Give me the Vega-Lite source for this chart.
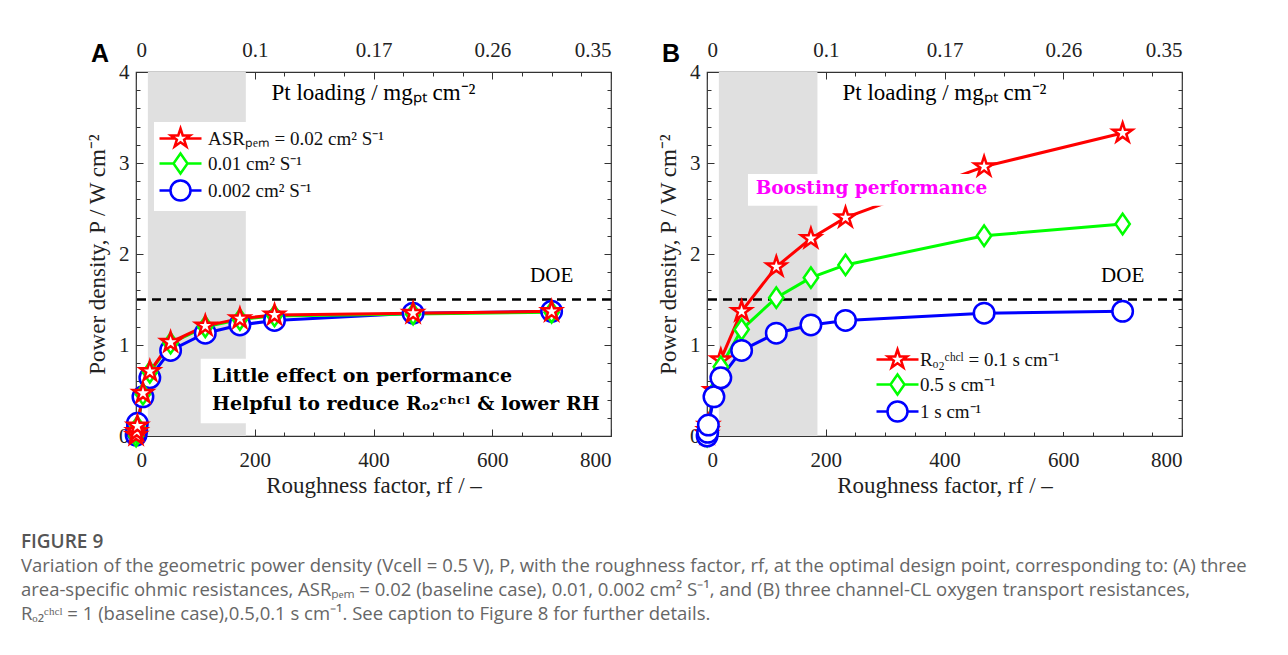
{
  "$schema": "https://vega.github.io/schema/vega-lite/v6.json",
  "padding": {"left": 20, "top": 38, "right": 5, "bottom": 5},
  "background": "white",
  "config": {
    "view": {"stroke": "#333", "strokeWidth": 1.2},
    "font": "Liberation Serif",
    "axis": {"grid": false, "domain": false, "tickColor": "#333", "tickWidth": 1, "labelFont": "Liberation Serif", "labelFontSize": 21, "labelColor": "#222", "titleFont": "Liberation Serif", "titleFontSize": 23, "titleFontWeight": "normal", "titleColor": "#222"}
  },
  "datasets": {
    "A": [
      {"s": "0.002 cm² S⁻¹", "r": 0.2, "P": 0.01},
      {"s": "0.002 cm² S⁻¹", "r": 1.2, "P": 0.06},
      {"s": "0.002 cm² S⁻¹", "r": 2.3, "P": 0.14},
      {"s": "0.002 cm² S⁻¹", "r": 11.7, "P": 0.43},
      {"s": "0.002 cm² S⁻¹", "r": 23.3, "P": 0.64},
      {"s": "0.002 cm² S⁻¹", "r": 58.3, "P": 0.94},
      {"s": "0.002 cm² S⁻¹", "r": 116.7, "P": 1.13},
      {"s": "0.002 cm² S⁻¹", "r": 175, "P": 1.22},
      {"s": "0.002 cm² S⁻¹", "r": 233.3, "P": 1.27},
      {"s": "0.002 cm² S⁻¹", "r": 466.7, "P": 1.35},
      {"s": "0.002 cm² S⁻¹", "r": 700, "P": 1.37},
      {"s": "0.01 cm² S⁻¹", "r": 0.2, "P": 0.0},
      {"s": "0.01 cm² S⁻¹", "r": 1.2, "P": 0.04},
      {"s": "0.01 cm² S⁻¹", "r": 2.3, "P": 0.1},
      {"s": "0.01 cm² S⁻¹", "r": 11.7, "P": 0.46},
      {"s": "0.01 cm² S⁻¹", "r": 23.3, "P": 0.7},
      {"s": "0.01 cm² S⁻¹", "r": 58.3, "P": 1.02},
      {"s": "0.01 cm² S⁻¹", "r": 116.7, "P": 1.2},
      {"s": "0.01 cm² S⁻¹", "r": 175, "P": 1.28},
      {"s": "0.01 cm² S⁻¹", "r": 233.3, "P": 1.32},
      {"s": "0.01 cm² S⁻¹", "r": 466.7, "P": 1.34},
      {"s": "0.01 cm² S⁻¹", "r": 700, "P": 1.36},
      {"s": "ASRₚₑₘ = 0.02 cm² S⁻¹", "r": 0.2, "P": 0.01},
      {"s": "ASRₚₑₘ = 0.02 cm² S⁻¹", "r": 1.2, "P": 0.05},
      {"s": "ASRₚₑₘ = 0.02 cm² S⁻¹", "r": 2.3, "P": 0.11},
      {"s": "ASRₚₑₘ = 0.02 cm² S⁻¹", "r": 11.7, "P": 0.47},
      {"s": "ASRₚₑₘ = 0.02 cm² S⁻¹", "r": 23.3, "P": 0.71},
      {"s": "ASRₚₑₘ = 0.02 cm² S⁻¹", "r": 58.3, "P": 1.03},
      {"s": "ASRₚₑₘ = 0.02 cm² S⁻¹", "r": 116.7, "P": 1.21},
      {"s": "ASRₚₑₘ = 0.02 cm² S⁻¹", "r": 175, "P": 1.29},
      {"s": "ASRₚₑₘ = 0.02 cm² S⁻¹", "r": 233.3, "P": 1.33},
      {"s": "ASRₚₑₘ = 0.02 cm² S⁻¹", "r": 466.7, "P": 1.35},
      {"s": "ASRₚₑₘ = 0.02 cm² S⁻¹", "r": 700, "P": 1.37}
    ],
    "B": [
      {"s": "Rₒ₂ᶜʰᶜˡ = 0.1 s cm⁻¹", "r": 0.2, "P": 0.02},
      {"s": "Rₒ₂ᶜʰᶜˡ = 0.1 s cm⁻¹", "r": 1.2, "P": 0.06},
      {"s": "Rₒ₂ᶜʰᶜˡ = 0.1 s cm⁻¹", "r": 2.3, "P": 0.12},
      {"s": "Rₒ₂ᶜʰᶜˡ = 0.1 s cm⁻¹", "r": 11.7, "P": 0.5},
      {"s": "Rₒ₂ᶜʰᶜˡ = 0.1 s cm⁻¹", "r": 23.3, "P": 0.84},
      {"s": "Rₒ₂ᶜʰᶜˡ = 0.1 s cm⁻¹", "r": 58.3, "P": 1.37},
      {"s": "Rₒ₂ᶜʰᶜˡ = 0.1 s cm⁻¹", "r": 116.7, "P": 1.86},
      {"s": "Rₒ₂ᶜʰᶜˡ = 0.1 s cm⁻¹", "r": 175, "P": 2.17},
      {"s": "Rₒ₂ᶜʰᶜˡ = 0.1 s cm⁻¹", "r": 233.3, "P": 2.4},
      {"s": "Rₒ₂ᶜʰᶜˡ = 0.1 s cm⁻¹", "r": 466.7, "P": 2.96},
      {"s": "Rₒ₂ᶜʰᶜˡ = 0.1 s cm⁻¹", "r": 700, "P": 3.33},
      {"s": "0.5 s cm⁻¹", "r": 0.2, "P": 0.0},
      {"s": "0.5 s cm⁻¹", "r": 1.2, "P": 0.05},
      {"s": "0.5 s cm⁻¹", "r": 2.3, "P": 0.11},
      {"s": "0.5 s cm⁻¹", "r": 11.7, "P": 0.48},
      {"s": "0.5 s cm⁻¹", "r": 23.3, "P": 0.76},
      {"s": "0.5 s cm⁻¹", "r": 58.3, "P": 1.17},
      {"s": "0.5 s cm⁻¹", "r": 116.7, "P": 1.52},
      {"s": "0.5 s cm⁻¹", "r": 175, "P": 1.74},
      {"s": "0.5 s cm⁻¹", "r": 233.3, "P": 1.88},
      {"s": "0.5 s cm⁻¹", "r": 466.7, "P": 2.2},
      {"s": "0.5 s cm⁻¹", "r": 700, "P": 2.33},
      {"s": "1 s cm⁻¹", "r": 0.2, "P": 0.0},
      {"s": "1 s cm⁻¹", "r": 1.2, "P": 0.04},
      {"s": "1 s cm⁻¹", "r": 2.3, "P": 0.12},
      {"s": "1 s cm⁻¹", "r": 11.7, "P": 0.43},
      {"s": "1 s cm⁻¹", "r": 23.3, "P": 0.64},
      {"s": "1 s cm⁻¹", "r": 58.3, "P": 0.94},
      {"s": "1 s cm⁻¹", "r": 116.7, "P": 1.13},
      {"s": "1 s cm⁻¹", "r": 175, "P": 1.22},
      {"s": "1 s cm⁻¹", "r": 233.3, "P": 1.27},
      {"s": "1 s cm⁻¹", "r": 466.7, "P": 1.35},
      {"s": "1 s cm⁻¹", "r": 700, "P": 1.37}
    ]
  },
  "title": {
    "text": "FIGURE 9",
    "subtitle": [
      "Variation of the geometric power density (Vcell =  0.5 V), P, with the roughness factor, rf, at the optimal design point, corresponding to: (A) three",
      "area-specific ohmic resistances, ASRₚₑₘ = 0.02 (baseline case), 0.01, 0.002 cm² S⁻¹, and (B) three channel-CL oxygen transport resistances,",
      "Rₒ₂ᶜʰᶜˡ = 1 (baseline case),0.5,0.1 s cm⁻¹. See caption to Figure 8 for further details."
    ],
    "orient": "bottom",
    "anchor": "start",
    "frame": "bounds",
    "dx": -65,
    "offset": 35,
    "font": "Open Sans",
    "fontSize": 19,
    "fontWeight": 600,
    "color": "#555",
    "subtitleFont": "Open Sans",
    "subtitleFontSize": 18.5,
    "subtitleColor": "#666",
    "subtitleLineHeight": 24,
    "subtitlePadding": 5
  },
  "spacing": 43,
  "resolve": {
    "scale": {"color": "independent", "stroke": "independent", "shape": "independent"},
    "legend": {"color": "independent", "stroke": "independent", "shape": "independent"}
  },
  "hconcat": [
    {
      "width": 475,
      "height": 364,
      "title": {"text": "A", "anchor": "start", "frame": "group", "font": "Liberation Sans", "fontSize": 25, "fontWeight": "bold", "color": "black", "dx": -45, "dy": 32},
      "data": {"name": "A"},
      "resolve": {"axis": {"x": "independent", "y": "independent"}},
      "layer": [
        {
          "data": {"values": [{}]},
          "mark": {"type": "rect", "color": "#e0e0e0"},
          "encoding": {
            "x": {"datum": 20, "type": "quantitative", "scale": {"domain": [0, 800], "nice": false}, "axis": {"orient": "bottom", "values": [0, 200, 400, 600, 800], "ticks": false, "labelPadding": 13, "title": "Roughness factor, rf / –", "titlePadding": 4}},
            "x2": {"datum": 185},
            "y": {"datum": 0, "type": "quantitative", "scale": {"domain": [0, 4], "nice": false}, "axis": {"orient": "left", "values": [0, 1, 2, 3, 4], "ticks": false, "labelPadding": 7, "title": "Power density, P / W cm⁻²", "titlePadding": 9}},
            "y2": {"datum": 4}
          }
        },
        {
          "data": {"values": [{}]},
          "mark": {"type": "rect", "color": "white"},
          "encoding": {
            "x": {"datum": 109, "type": "quantitative", "axis": {"orient": "top", "values": [0, 200, 400, 600, 800], "ticks": false, "labelPadding": 12, "labelExpr": "datum.value == 0 ? '0' : datum.value == 200 ? '0.1' : datum.value == 400 ? '0.17' : datum.value == 600 ? '0.26' : '0.35'", "title": null}},
            "x2": {"datum": 500},
            "y": {"datum": 0.14, "type": "quantitative", "axis": {"orient": "right", "values": [0, 1, 2, 3, 4], "labels": false, "tickSize": -7, "title": null}},
            "y2": {"datum": 0.85}
          }
        },
        {
          "data": {"values": [{}]},
          "mark": {"type": "rule", "color": "black", "strokeWidth": 2.5, "strokeDash": [9, 6]},
          "encoding": {
            "y": {"datum": 1.5, "type": "quantitative", "axis": {"orient": "left", "values": [0, 1, 2, 3, 4], "labels": false, "tickSize": -7, "title": null}}
          }
        },
        {
          "mark": {"type": "line", "strokeWidth": 3},
          "encoding": {
            "x": {"field": "r", "type": "quantitative", "axis": {"orient": "bottom", "values": [0, 200, 400, 600, 800], "labels": false, "tickSize": -7, "title": null}},
            "y": {"field": "P", "type": "quantitative", "axis": {"orient": "right", "values": [0.2, 0.4, 0.6, 0.8, 1.2, 1.4, 1.6, 1.8, 2.2, 2.4, 2.6, 2.8, 3.2, 3.4, 3.6, 3.8], "labels": false, "tickSize": -4, "title": null}},
            "color": {"field": "s", "type": "nominal", "scale": {"domain": ["0.002 cm² S⁻¹", "0.01 cm² S⁻¹", "ASRₚₑₘ = 0.02 cm² S⁻¹"], "range": ["#0000ff", "#00ff00", "#ff0000"]}, "legend": null}
          }
        },
        {
          "mark": {"type": "point", "filled": false, "fill": "white", "fillOpacity": 1, "strokeWidth": 2.5, "opacity": 1, "size": 420},
          "encoding": {
            "x": {"field": "r", "type": "quantitative", "axis": {"orient": "bottom", "values": [50, 100, 150, 250, 300, 350, 450, 500, 550, 650, 700, 750], "labels": false, "tickSize": -4, "title": null}},
            "y": {"field": "P", "type": "quantitative", "axis": {"orient": "left", "values": [0.2, 0.4, 0.6, 0.8, 1.2, 1.4, 1.6, 1.8, 2.2, 2.4, 2.6, 2.8, 3.2, 3.4, 3.6, 3.8], "labels": false, "tickSize": -4, "title": null}},
            "stroke": {"field": "s", "type": "nominal", "scale": {"domain": ["ASRₚₑₘ = 0.02 cm² S⁻¹", "0.01 cm² S⁻¹", "0.002 cm² S⁻¹"], "range": ["#ff0000", "#00ff00", "#0000ff"]}, "legend": {"orient": "none", "legendX": 18, "legendY": 50, "title": null, "fillColor": "white", "padding": 5, "labelFont": "Liberation Serif", "labelFontSize": 19, "labelColor": "#111", "labelLimit": 400, "labelOffset": 16, "symbolOffset": 10, "rowPadding": -7, "symbolSize": 400, "symbolStrokeWidth": 2.5, "symbolFillColor": "white", "symbolType": {"expr": "datum.index === 0 ? 'M-2.1,0L-0.5,0M0.5,0L2.1,0M0,-1L0.225,-0.309L0.951,-0.309L0.363,0.118L0.588,0.809L0,0.382L-0.588,0.809L-0.363,0.118L-0.951,-0.309L-0.225,-0.309Z' : datum.index === 1 ? 'M-2.1,0L-0.7,0M0.7,0L2.1,0M0,-1L0.7,0L0,1L-0.7,0Z' : 'M-2.1,0L-1,0M1,0L2.1,0M1,0A1,1,0,1,1,-1,0A1,1,0,1,1,1,0Z'"}, "encoding": {"symbols": {"shape": {"value": {"expr": "datum.index === 0 ? 'M-2.1,0L-0.5,0M0.5,0L2.1,0M0,-1L0.225,-0.309L0.951,-0.309L0.363,0.118L0.588,0.809L0,0.382L-0.588,0.809L-0.363,0.118L-0.951,-0.309L-0.225,-0.309Z' : datum.index === 1 ? 'M-2.1,0L-0.7,0M0.7,0L2.1,0M0,-1L0.7,0L0,1L-0.7,0Z' : 'M-2.1,0L-1,0M1,0L2.1,0M1,0A1,1,0,1,1,-1,0A1,1,0,1,1,1,0Z'"}}, "fill": {"value": "white"}, "strokeWidth": {"value": 2.5}}}}},
            "shape": {"field": "s", "type": "nominal", "scale": {"domain": ["0.002 cm² S⁻¹", "0.01 cm² S⁻¹", "ASRₚₑₘ = 0.02 cm² S⁻¹"], "range": ["M1,0A1,1,0,1,1,-1,0A1,1,0,1,1,1,0Z", "M0,-1L0.7,0L0,1L-0.7,0Z", "M0,-1L0.225,-0.309L0.951,-0.309L0.363,0.118L0.588,0.809L0,0.382L-0.588,0.809L-0.363,0.118L-0.951,-0.309L-0.225,-0.309Z"]}, "legend": null}
          }
        },
        {
          "data": {"values": [{}]},
          "mark": {"type": "text", "fontSize": 21, "font": "Liberation Serif", "color": "black", "align": "center", "baseline": "middle"},
          "encoding": {
            "x": {"datum": 700, "type": "quantitative", "axis": {"orient": "top", "values": [0, 200, 400, 600, 800], "labels": false, "tickSize": -7, "title": null}},
            "y": {"datum": 1.76, "type": "quantitative", "axis": null},
            "text": {"value": "DOE"}
          }
        },
        {
          "data": {"values": [{}]},
          "mark": {"type": "text", "fontSize": 23, "font": "Liberation Serif", "color": "black", "align": "center", "baseline": "middle"},
          "encoding": {
            "x": {"datum": 400, "type": "quantitative", "axis": {"orient": "top", "values": [50, 100, 150, 250, 300, 350, 450, 500, 550, 650, 700, 750], "labels": false, "tickSize": -4, "title": null}},
            "y": {"datum": 3.77, "type": "quantitative", "axis": null},
            "text": {"value": "Pt loading / mgₚₜ cm⁻²"}
          }
        },
        {
          "data": {"values": [{}]},
          "mark": {"type": "text", "fontSize": 19, "font": "DejaVu Serif", "fontWeight": "bold", "color": "black", "align": "left", "baseline": "middle", "lineHeight": 28},
          "encoding": {
            "x": {"datum": 128, "type": "quantitative", "axis": null},
            "y": {"datum": 0.66, "type": "quantitative", "axis": null},
            "text": {"value": ["Little effect on performance", "Helpful to reduce Rₒ₂ᶜʰᶜˡ & lower RH"]}
          }
        }
      ]
    },
    {
      "width": 475,
      "height": 364,
      "title": {"text": "B", "anchor": "start", "frame": "group", "font": "Liberation Sans", "fontSize": 25, "fontWeight": "bold", "color": "black", "dx": -45, "dy": 32},
      "data": {"name": "B"},
      "resolve": {"axis": {"x": "independent", "y": "independent"}},
      "layer": [
        {
          "data": {"values": [{}]},
          "mark": {"type": "rect", "color": "#e0e0e0"},
          "encoding": {
            "x": {"datum": 20, "type": "quantitative", "scale": {"domain": [0, 800], "nice": false}, "axis": {"orient": "bottom", "values": [0, 200, 400, 600, 800], "ticks": false, "labelPadding": 13, "title": "Roughness factor, rf / –", "titlePadding": 4}},
            "x2": {"datum": 186},
            "y": {"datum": 0, "type": "quantitative", "scale": {"domain": [0, 4], "nice": false}, "axis": {"orient": "left", "values": [0, 1, 2, 3, 4], "ticks": false, "labelPadding": 7, "title": "Power density, P / W cm⁻²", "titlePadding": 9}},
            "y2": {"datum": 4}
          }
        },
        {
          "data": {"values": [{}]},
          "mark": {"type": "rule", "color": "black", "strokeWidth": 2.5, "strokeDash": [9, 6]},
          "encoding": {
            "y": {"datum": 1.5, "type": "quantitative", "axis": {"orient": "left", "values": [0, 1, 2, 3, 4], "labels": false, "tickSize": -7, "title": null}}
          }
        },
        {
          "mark": {"type": "line", "strokeWidth": 3},
          "encoding": {
            "x": {"field": "r", "type": "quantitative", "axis": {"orient": "bottom", "values": [0, 200, 400, 600, 800], "labels": false, "tickSize": -7, "title": null}},
            "y": {"field": "P", "type": "quantitative", "axis": {"orient": "right", "values": [0.2, 0.4, 0.6, 0.8, 1.2, 1.4, 1.6, 1.8, 2.2, 2.4, 2.6, 2.8, 3.2, 3.4, 3.6, 3.8], "labels": false, "tickSize": -4, "title": null}},
            "color": {"field": "s", "type": "nominal", "scale": {"domain": ["1 s cm⁻¹", "0.5 s cm⁻¹", "Rₒ₂ᶜʰᶜˡ = 0.1 s cm⁻¹"], "range": ["#0000ff", "#00ff00", "#ff0000"]}, "legend": null}
          }
        },
        {
          "data": {"values": [{}]},
          "mark": {"type": "rect", "color": "white"},
          "encoding": {
            "x": {"datum": 69, "type": "quantitative", "axis": {"orient": "top", "values": [0, 200, 400, 600, 800], "ticks": false, "labelPadding": 12, "labelExpr": "datum.value == 0 ? '0' : datum.value == 200 ? '0.1' : datum.value == 400 ? '0.17' : datum.value == 600 ? '0.26' : '0.35'", "title": null}},
            "x2": {"datum": 485},
            "y": {"datum": 2.53, "type": "quantitative", "axis": {"orient": "right", "values": [0, 1, 2, 3, 4], "labels": false, "tickSize": -7, "title": null}},
            "y2": {"datum": 2.88}
          }
        },
        {
          "mark": {"type": "point", "filled": false, "fill": "white", "fillOpacity": 1, "strokeWidth": 2.5, "opacity": 1, "size": 420},
          "encoding": {
            "x": {"field": "r", "type": "quantitative", "axis": {"orient": "bottom", "values": [50, 100, 150, 250, 300, 350, 450, 500, 550, 650, 700, 750], "labels": false, "tickSize": -4, "title": null}},
            "y": {"field": "P", "type": "quantitative", "axis": {"orient": "left", "values": [0.2, 0.4, 0.6, 0.8, 1.2, 1.4, 1.6, 1.8, 2.2, 2.4, 2.6, 2.8, 3.2, 3.4, 3.6, 3.8], "labels": false, "tickSize": -4, "title": null}},
            "stroke": {"field": "s", "type": "nominal", "scale": {"domain": ["Rₒ₂ᶜʰᶜˡ = 0.1 s cm⁻¹", "0.5 s cm⁻¹", "1 s cm⁻¹"], "range": ["#ff0000", "#00ff00", "#0000ff"]}, "legend": {"orient": "none", "legendX": 164, "legendY": 271, "title": null, "fillColor": "white", "padding": 5, "labelFont": "Liberation Serif", "labelFontSize": 19, "labelColor": "#111", "labelLimit": 400, "labelOffset": 11, "symbolOffset": 10, "rowPadding": -7, "symbolSize": 400, "symbolStrokeWidth": 2.5, "symbolFillColor": "white", "symbolType": {"expr": "datum.index === 0 ? 'M-2.1,0L-0.5,0M0.5,0L2.1,0M0,-1L0.225,-0.309L0.951,-0.309L0.363,0.118L0.588,0.809L0,0.382L-0.588,0.809L-0.363,0.118L-0.951,-0.309L-0.225,-0.309Z' : datum.index === 1 ? 'M-2.1,0L-0.7,0M0.7,0L2.1,0M0,-1L0.7,0L0,1L-0.7,0Z' : 'M-2.1,0L-1,0M1,0L2.1,0M1,0A1,1,0,1,1,-1,0A1,1,0,1,1,1,0Z'"}, "encoding": {"symbols": {"shape": {"value": {"expr": "datum.index === 0 ? 'M-2.1,0L-0.5,0M0.5,0L2.1,0M0,-1L0.225,-0.309L0.951,-0.309L0.363,0.118L0.588,0.809L0,0.382L-0.588,0.809L-0.363,0.118L-0.951,-0.309L-0.225,-0.309Z' : datum.index === 1 ? 'M-2.1,0L-0.7,0M0.7,0L2.1,0M0,-1L0.7,0L0,1L-0.7,0Z' : 'M-2.1,0L-1,0M1,0L2.1,0M1,0A1,1,0,1,1,-1,0A1,1,0,1,1,1,0Z'"}}, "fill": {"value": "white"}, "strokeWidth": {"value": 2.5}}}}},
            "shape": {"field": "s", "type": "nominal", "scale": {"domain": ["1 s cm⁻¹", "0.5 s cm⁻¹", "Rₒ₂ᶜʰᶜˡ = 0.1 s cm⁻¹"], "range": ["M1,0A1,1,0,1,1,-1,0A1,1,0,1,1,1,0Z", "M0,-1L0.7,0L0,1L-0.7,0Z", "M0,-1L0.225,-0.309L0.951,-0.309L0.363,0.118L0.588,0.809L0,0.382L-0.588,0.809L-0.363,0.118L-0.951,-0.309L-0.225,-0.309Z"]}, "legend": null}
          }
        },
        {
          "data": {"values": [{}]},
          "mark": {"type": "text", "fontSize": 21, "font": "Liberation Serif", "color": "black", "align": "center", "baseline": "middle"},
          "encoding": {
            "x": {"datum": 700, "type": "quantitative", "axis": {"orient": "top", "values": [0, 200, 400, 600, 800], "labels": false, "tickSize": -7, "title": null}},
            "y": {"datum": 1.76, "type": "quantitative", "axis": null},
            "text": {"value": "DOE"}
          }
        },
        {
          "data": {"values": [{}]},
          "mark": {"type": "text", "fontSize": 23, "font": "Liberation Serif", "color": "black", "align": "center", "baseline": "middle"},
          "encoding": {
            "x": {"datum": 400, "type": "quantitative", "axis": {"orient": "top", "values": [50, 100, 150, 250, 300, 350, 450, 500, 550, 650, 700, 750], "labels": false, "tickSize": -4, "title": null}},
            "y": {"datum": 3.77, "type": "quantitative", "axis": null},
            "text": {"value": "Pt loading / mgₚₜ cm⁻²"}
          }
        },
        {
          "data": {"values": [{}]},
          "mark": {"type": "text", "fontSize": 18.5, "font": "DejaVu Serif", "fontWeight": "bold", "color": "#ff00ff", "align": "center", "baseline": "middle"},
          "encoding": {
            "x": {"datum": 277, "type": "quantitative", "axis": null},
            "y": {"datum": 2.72, "type": "quantitative", "axis": null},
            "text": {"value": "Boosting performance"}
          }
        }
      ]
    }
  ]
}
